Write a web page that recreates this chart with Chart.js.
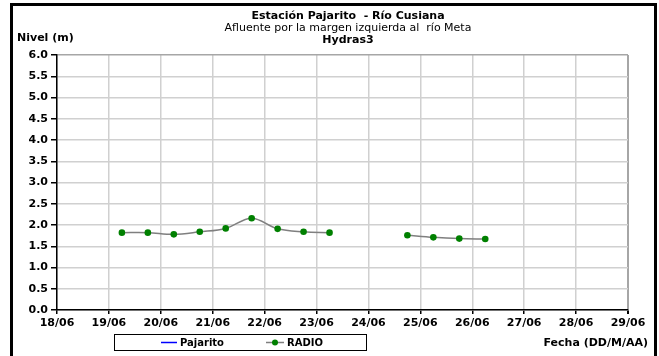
<!DOCTYPE html>
<html>
<head>
<meta charset="utf-8">
<script src="https://cdn.jsdelivr.net/npm/chart.js@4.4.1/dist/chart.umd.min.js"></script>
<style>
html,body{margin:0;padding:0;background:#fff;}
#wrap{position:relative;width:659px;height:356px;}
</style>
</head>
<body>
<div id="wrap"><canvas id="grafico" width="659" height="356"></canvas></div>
<script>
// lecturas cada 12 horas (DD/MM HH:MM); null = sin dato
var fechas = ['19/06 06:00','19/06 18:00','20/06 06:00','20/06 18:00','21/06 06:00','21/06 18:00',
              '22/06 06:00','22/06 18:00','23/06 06:00','23/06 18:00','24/06 06:00','24/06 18:00',
              '25/06 06:00','25/06 18:00','26/06 06:00'];
var nivelRadio = [1.82,1.82,1.78,1.84,1.92,2.16,1.91,1.84,1.82,null,null,1.76,1.71,1.68,1.67];
var nivelPajarito = []; // sin datos en el periodo
var diaInicio = 18, diaFin = 29;   // eje de fechas 18/06 .. 29/06
var nivelMin = 0, nivelMax = 6, nivelPaso = 0.5;
var titulos = ['Estación Pajarito  - Río Cusiana', 'Afluente por la margen izquierda al  río Meta', 'Hydras3'];
var nombresSeries = ['Pajarito', 'RADIO'];
var tituloY = 'Nivel (m)';
var tituloX = 'Fecha (DD/M/AA)';

var fuente = '"DejaVu Sans", sans-serif';

// "DD/MM HH:MM" -> dias desde el inicio del eje
function aDias(f){
	var d = parseInt(f.substr(0,2),10);
	var h = parseInt(f.substr(6,2),10);
	return d - diaInicio + h/24;
}

function armarPuntos(valores){
	var pts = [];
	for(var i=0; i<valores.length; i++){
		pts.push({x: aDias(fechas[i]), y: valores[i]});
	}
	return pts;
}

// marco, titulos y leyenda estilo excel
var decorado = {
	id: 'decorado',
	beforeDraw: function(chart){
		var ctx = chart.ctx;
		ctx.save();
		ctx.fillStyle = '#fff';
		ctx.fillRect(0,0,chart.width,chart.height);
		ctx.restore();
	},
	afterDraw: function(chart){
		var ctx = chart.ctx;
		var ds = chart.data.datasets;
		ctx.save();
		ctx.strokeStyle = '#000';
		ctx.lineWidth = 3;
		ctx.beginPath();
		ctx.moveTo(11.5, 356); ctx.lineTo(11.5, 4.5); ctx.lineTo(655.5, 4.5); ctx.lineTo(655.5, 356);
		ctx.stroke();

		ctx.fillStyle = '#000';
		ctx.textBaseline = 'middle';
		ctx.textAlign = 'center';
		ctx.font = 'bold 11px ' + fuente;
		ctx.fillText(titulos[0], 348, 16);
		ctx.font = '11px ' + fuente;
		ctx.fillText(titulos[1], 348, 28);
		ctx.font = 'bold 11px ' + fuente;
		ctx.fillText(titulos[2], 348, 40);
		ctx.textAlign = 'left';
		ctx.fillText(tituloY, 17, 38);
		ctx.textAlign = 'right';
		ctx.fillText(tituloX, 648, 343);

		// leyenda
		ctx.lineWidth = 1;
		ctx.strokeStyle = '#000';
		ctx.strokeRect(114.5, 334.5, 252, 16);
		ctx.textAlign = 'left';
		ctx.font = 'bold 10px ' + fuente;
		ctx.strokeStyle = ds[0].borderColor;
		ctx.lineWidth = 1.5;
		ctx.beginPath(); ctx.moveTo(161, 342.5); ctx.lineTo(177, 342.5); ctx.stroke();
		ctx.fillText(ds[0].label, 180, 343);
		ctx.strokeStyle = ds[1].borderColor;
		ctx.beginPath(); ctx.moveTo(266, 342.5); ctx.lineTo(284, 342.5); ctx.stroke();
		ctx.fillStyle = ds[1].pointBackgroundColor;
		ctx.beginPath(); ctx.arc(275, 342.5, 3, 0, Math.PI*2); ctx.fill();
		ctx.fillStyle = '#000';
		ctx.fillText(ds[1].label, 287, 343);
		ctx.restore();
	}
};

var ultimoX = diaFin - diaInicio;

new Chart(document.getElementById('grafico').getContext('2d'), {
	type: 'line',
	data: {
		datasets: [
			{
				label: nombresSeries[0],
				data: armarPuntos(nivelPajarito),
				borderColor: '#0000ff',
				backgroundColor: '#0000ff',
				borderWidth: 1.5,
				pointRadius: 0
			},
			{
				label: nombresSeries[1],
				data: armarPuntos(nivelRadio),
				borderColor: '#7f7f7f',
				backgroundColor: '#008000',
				borderWidth: 1.5,
				tension: 0.35,
				spanGaps: false,
				pointRadius: 3.3,
				pointBorderWidth: 0,
				pointBackgroundColor: '#008000',
				pointBorderColor: '#008000'
			}
		]
	},
	options: {
		responsive: false,
		animation: false,
		devicePixelRatio: 1,
		layout: {padding: {left: 0, top: 55, right: 31, bottom: 0}},
		plugins: {
			legend: {display: false},
			title: {display: false},
			tooltip: {enabled: false}
		},
		scales: {
			x: {
				type: 'linear',
				min: 0,
				max: ultimoX,
				afterFit: function(s){ s.height = 46; },
				ticks: {
					stepSize: 1,
					autoSkip: false,
					maxRotation: 0,
					padding: 3,
					color: '#000',
					font: {family: fuente, size: 11, weight: 'bold'},
					callback: function(v){
						var d = diaInicio + v;
						return (d < 10 ? '0' + d : '' + d) + '/06';
					}
				},
				grid: {
					color: function(c){ return c.index === ultimoX ? '#a6a6a6' : '#d0d0d0'; },
					lineWidth: function(c){ return c.index === ultimoX ? 2 : 1.5; },
					tickLength: 4,
					tickColor: '#000'
				},
				border: {color: '#000', width: 1.5}
			},
			y: {
				min: nivelMin,
				max: nivelMax,
				afterFit: function(s){ s.width = 57; },
				ticks: {
					stepSize: nivelPaso,
					padding: 3,
					color: '#000',
					font: {family: fuente, size: 11, weight: 'bold'},
					callback: function(v){ return Number(v).toFixed(1); }
				},
				grid: {
					color: function(c){ return c.tick && c.tick.value === nivelMax ? '#a6a6a6' : '#d0d0d0'; },
					lineWidth: 1.5,
					tickLength: 6,
					tickColor: '#000'
				},
				border: {color: '#000', width: 1.5}
			}
		}
	},
	plugins: [decorado]
});
</script>
</body>
</html>
